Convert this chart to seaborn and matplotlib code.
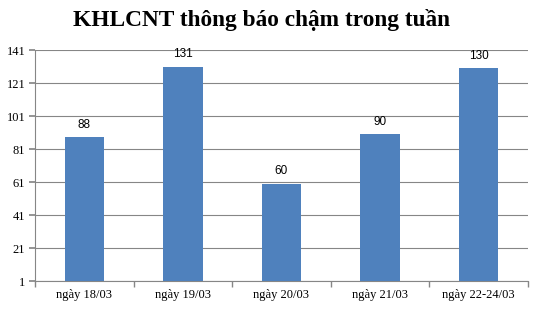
import matplotlib
matplotlib.use("Agg")
import matplotlib.pyplot as plt
import seaborn as sns
import pandas as pd
import numpy as np

categories = ["ngày 18/03", "ngày 19/03", "ngày 20/03", "ngày 21/03", "ngày 22-24/03"]
values = [88, 131, 60, 90, 130]
yticks = [1, 21, 41, 61, 81, 101, 121, 141]
title = "KHLCNT thông báo chậm trong tuần"

sns.set_theme(style="white")
plt.rcParams['font.family'] = ['Liberation Serif', 'DejaVu Serif']
plt.rcParams['text.color'] = 'black'
plt.rcParams['xtick.color'] = 'black'
plt.rcParams['ytick.color'] = 'black'

df = pd.DataFrame({"cat": categories, "val": values})

fig = plt.figure(figsize=(5.38, 3.10), dpi=100)
ax = fig.add_axes([0.065, 0.0935, 0.916, 0.745])

sns.barplot(data=df, x="cat", y="val", color="#4F81BD", saturation=1, width=0.4, ax=ax, zorder=3, linewidth=0)

ax.set_ylim(1, 141)
ax.set_xlim(-0.5, len(categories) - 0.5)
ax.set_yticks(yticks)
ax.set_yticklabels([str(t) for t in yticks], fontsize=9, family='Liberation Serif', color='black')
ax.set_xticks(range(len(categories)))
ax.set_xticklabels(categories, fontsize=9, family='Liberation Serif', color='black')
ax.set_xlabel("")
ax.set_ylabel("")
ax.grid(axis="y", color="#868686", linewidth=0.8, zorder=0)
ax.set_axisbelow(True)
for s in ["top", "right"]:
    ax.spines[s].set_visible(False)
for s in ["left", "bottom"]:
    ax.spines[s].set_color("#868686")
    ax.spines[s].set_linewidth(0.8)
ax.tick_params(axis="y", which="major", length=4, color="#868686", labelcolor="black", direction="out", pad=3, left=True)
ax.tick_params(axis="x", which="major", length=0, pad=6, labelcolor="black")
ax.set_xticks(np.arange(-0.5, len(categories)), minor=True)
ax.tick_params(axis="x", which="minor", length=4, color="#868686", direction="out", bottom=True)

for i, v in enumerate(values):
    ax.text(i, v + 4, str(v), ha="center", va="bottom", fontsize=8.5, family='Liberation Sans', color="black")

fig.text(0.486, 0.935, title, ha="center", va="center", fontsize=16.8, fontweight="bold", family='Liberation Serif', color='black')

fig.savefig("out.png", dpi=100, facecolor="white")
